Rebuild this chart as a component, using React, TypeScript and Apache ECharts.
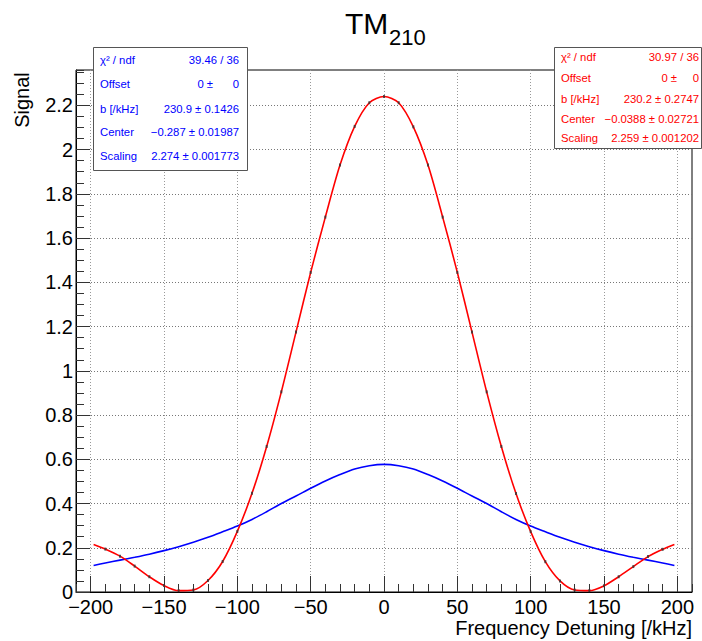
import React, { useEffect, useRef } from "react";
import * as echarts from "echarts";

// ---- data ----
const freq = [
  -198, -190, -180, -170, -160, -150, -140, -130, -120, -110, -100, -90, -80, -70, -60, -50, -40, -30, -20, -10,
  0, 10, 20, 30, 40, 50, 60, 70, 80, 90, 100, 110, 120, 130, 140, 150, 160, 170, 180, 190, 198,
];
const redSignal = [
  0.215, 0.194, 0.162, 0.117, 0.069, 0.029, 0.006, 0.009, 0.052, 0.138, 0.274, 0.446, 0.658, 0.905, 1.175, 1.445,
  1.695, 1.93, 2.105, 2.212, 2.24, 2.212, 2.103, 1.93, 1.695, 1.445, 1.175, 0.905, 0.658, 0.445, 0.273, 0.137, 0.05,
  0.009, 0.006, 0.028, 0.069, 0.115, 0.16, 0.193, 0.215,
];
const blueSignal = [
  0.12, 0.131, 0.144, 0.157, 0.171, 0.187, 0.205, 0.225, 0.247, 0.272, 0.298, 0.328, 0.363, 0.4, 0.434, 0.469, 0.502,
  0.531, 0.556, 0.571, 0.577, 0.571, 0.556, 0.531, 0.502, 0.469, 0.434, 0.4, 0.363, 0.328, 0.298, 0.272, 0.247, 0.225,
  0.205, 0.187, 0.171, 0.157, 0.144, 0.131, 0.12,
];
const xMajorTicks = [-200, -150, -100, -50, 0, 50, 100, 150, 200];
const yMajorTicks = [0, 0.2, 0.4, 0.6, 0.8, 1, 1.2, 1.4, 1.6, 1.8, 2, 2.2];
const titleMain = "TM";
const titleSub = "210";
const xTitle = "Frequency Detuning [/kHz]";
const yTitle = "Signal";
const blueStats = [
  ["χ² / ndf", "39.46 / 36"],
  ["Offset", "0"],
  ["b [/kHz]", "230.9 ± 0.1426"],
  ["Center", "−0.287 ± 0.01987"],
  ["Scaling", "2.274 ± 0.001773"],
];
const redStats = [
  ["χ² / ndf", "30.97 / 36"],
  ["Offset", "0"],
  ["b [/kHz]", "230.2 ± 0.2747"],
  ["Center", "−0.0388 ± 0.02721"],
  ["Scaling", "2.259 ± 0.001202"],
];

const FONT = "'Liberation Sans', Arial, Helvetica, sans-serif";
const STAT_FS = 11.3;
const fmt = (v: number) => String(v).replace("-", "\u2212");

function statBox(
  stats: string[][],
  color: string,
  box: { x: number; y: number; w: number; h: number },
  labelX: number,
  valueX: number,
  rowsY: number[],
  pmX: number
) {
  const els: any[] = [
    {
      type: "rect",
      z: 100,
      shape: { x: box.x + 0.5, y: box.y + 0.5, width: box.w, height: box.h },
      style: { fill: "#fff", stroke: "#555", lineWidth: 1 },
    },
  ];
  stats.forEach((row, i) => {
    els.push({
      type: "text",
      z: 101,
      x: labelX,
      y: rowsY[i],
      style: { text: row[0], fill: color, fontSize: STAT_FS, fontFamily: FONT, align: "left", verticalAlign: "middle" },
    });
    if (row[0] === "Offset") {
      els.push({
        type: "text",
        z: 101,
        x: pmX,
        y: rowsY[i],
        style: { text: "0 ±", fill: color, fontSize: STAT_FS, fontFamily: FONT, align: "right", verticalAlign: "middle" },
      });
    }
    els.push({
      type: "text",
      z: 101,
      x: valueX,
      y: rowsY[i],
      style: { text: row[1], fill: color, fontSize: STAT_FS, fontFamily: FONT, align: "right", verticalAlign: "middle" },
    });
  });
  return els;
}

export default function App() {
  const ref = useRef<HTMLDivElement>(null);
  useEffect(() => {
    document.body.style.margin = "0";
    if (!ref.current) return;
    const chart = echarts.init(ref.current, undefined, { renderer: "svg" });
    const redData = freq.map((f, i) => [f, redSignal[i]]);
    const blueData = freq.map((f, i) => [f, blueSignal[i]]);
    const markerData = redData.slice(1, redData.length - 1);
    const tickColor = "#333";
    const option: any = {
      animation: false,
      backgroundColor: "#fff",
      grid: {
        left: 76,
        right: 10,
        top: 70,
        bottom: 49,
        show: true,
        borderColor: "#000",
        borderWidth: 1,
        backgroundColor: "transparent",
      },
      xAxis: [
        {
          type: "value",
          min: -210,
          max: 210,
          interval: 10,
          position: "bottom",
          axisLine: { show: true, onZero: false, lineStyle: { color: "#000", width: 1 } },
          axisTick: { show: true, inside: true, length: 8, lineStyle: { color: tickColor } },
          axisLabel: { show: false },
          splitLine: { show: false },
        },
        {
          type: "value",
          min: -210,
          max: 210,
          position: "bottom",
          axisLine: { show: false, onZero: false },
          axisTick: { show: true, inside: true, length: 16, customValues: xMajorTicks, lineStyle: { color: tickColor } },
          axisLabel: {
            show: true,
            customValues: xMajorTicks,
            formatter: fmt,
            fontSize: 20,
            color: "#000",
            fontFamily: FONT,
            margin: 5,
          },
          splitLine: { show: true, lineStyle: { type: [1, 2], color: "#999", width: 1 } },
        },
      ],
      yAxis: [
        {
          type: "value",
          min: 0,
          max: 2.36,
          interval: 0.05,
          position: "left",
          axisLine: { show: true, onZero: false, lineStyle: { color: "#000", width: 1 } },
          axisTick: { show: true, inside: true, length: 8, lineStyle: { color: tickColor } },
          axisLabel: { show: false },
          splitLine: { show: false },
        },
        {
          type: "value",
          min: 0,
          max: 2.36,
          position: "left",
          axisLine: { show: false, onZero: false },
          axisTick: { show: true, inside: true, length: 14, customValues: yMajorTicks, lineStyle: { color: tickColor } },
          axisLabel: {
            show: true,
            customValues: yMajorTicks,
            formatter: fmt,
            fontSize: 20,
            color: "#000",
            fontFamily: FONT,
            margin: 3,
          },
          splitLine: { show: true, lineStyle: { type: [1, 2], color: "#777", width: 1 } },
        },
      ],
      series: [
        {
          type: "line",
          data: blueData,
          showSymbol: false,
          smooth: 0.3,
          lineStyle: { color: "#0000ff", width: 1.6 },
          z: 3,
        },
        {
          type: "line",
          data: redData,
          showSymbol: false,
          smooth: 0.3,
          lineStyle: { color: "#ff0000", width: 1.6 },
          z: 4,
        },
        {
          type: "scatter",
          data: markerData,
          symbol: "rect",
          symbolSize: [2, 3],
          itemStyle: { color: "#333" },
          z: 5,
          silent: true,
        },
      ],
      graphic: [
        {
          type: "text",
          z: 101,
          x: 345,
          y: 23,
          style: { text: titleMain, fill: "#000", fontSize: 30, fontFamily: FONT, align: "left", verticalAlign: "middle" },
        },
        {
          type: "text",
          z: 101,
          x: 389,
          y: 37,
          style: { text: titleSub, fill: "#000", fontSize: 22, fontFamily: FONT, align: "left", verticalAlign: "middle" },
        },
        {
          type: "text",
          z: 101,
          x: 692,
          y: 628,
          style: { text: xTitle, fill: "#000", fontSize: 20, fontFamily: FONT, align: "right", verticalAlign: "middle" },
        },
        {
          type: "text",
          z: 101,
          x: 22,
          y: 100,
          rotation: Math.PI / 2,
          style: { text: yTitle, fill: "#000", fontSize: 20, fontFamily: FONT, align: "center", verticalAlign: "middle" },
        },
        ...statBox(blueStats, "#0000ff", { x: 93, y: 47, w: 154, h: 123 }, 100, 239, [60, 84, 109, 132, 156], 213),
        ...statBox(redStats, "#ff0000", { x: 554, y: 47, w: 147, h: 101 }, 561, 699, [57, 78, 99, 119, 138], 677),
      ],
    };
    chart.setOption(option);
    return () => chart.dispose();
  }, []);
  return <div ref={ref} style={{ width: 702, height: 641 }} />;
}
